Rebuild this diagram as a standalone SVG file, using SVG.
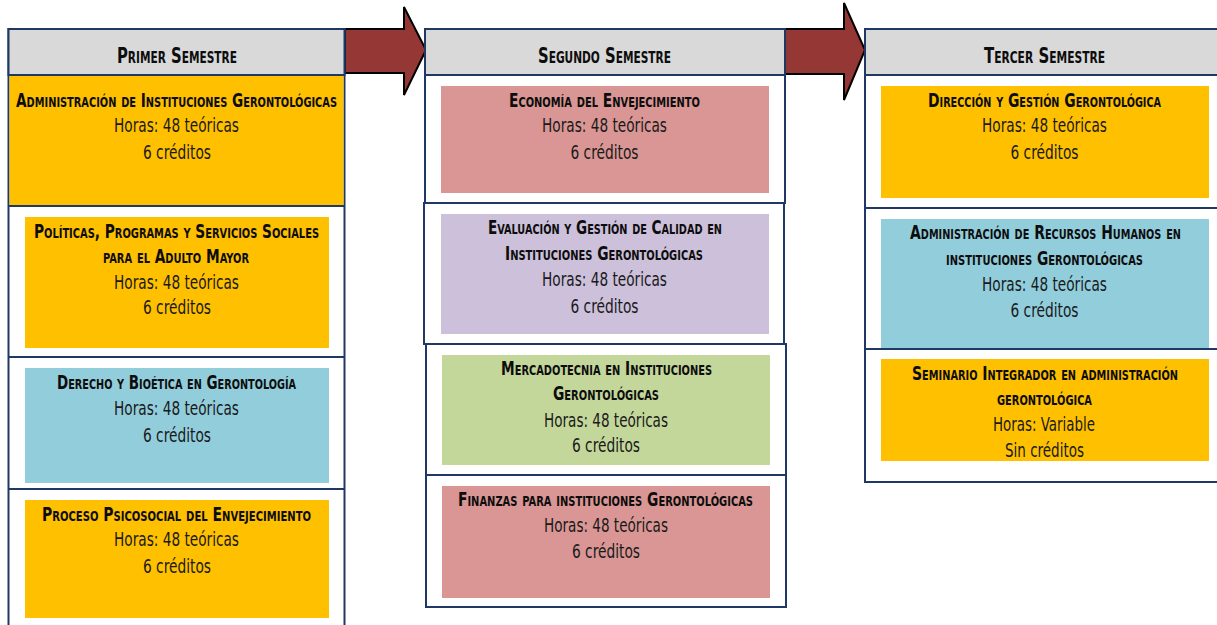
<svg xmlns="http://www.w3.org/2000/svg" width="1217" height="625" viewBox="0 0 1217 625">
<style>
.cell{fill:#fff;stroke:#1f3864;stroke-width:2}
.hdr{fill:#d9d9d9;stroke:#1f3864;stroke-width:2}
.ln{stroke:#1f3864;stroke-width:2}
.arrow{fill:#953735;stroke:#000;stroke-width:2;stroke-linejoin:miter}
.or{fill:#ffc000}.pk{fill:#d99694}.pu{fill:#ccc0da}.gr{fill:#c4d79b}.bl{fill:#92cddc}
text{font-family:"Liberation Sans Narrow","DejaVu Sans Condensed","Liberation Sans",sans-serif;text-anchor:middle;fill:#1a1a1a}
.h{font-size:21px;font-weight:bold;font-variant:small-caps;fill:#0d0d0d}
.t{font-size:19.5px;font-weight:bold;font-variant:small-caps;fill:#0d0d0d}
.b{font-size:19.5px}
</style>
<g id="connectors">
<polygon class="arrow" points="345,29 404,29 404,7 426,50 404,95 404,73 345,73"/>
<polygon class="arrow" points="785,29 844,29 844,3 865,50 844,100 844,74 785,74"/>
</g>
<g id="col1">
<rect class="cell" x="8.5" y="29" width="336" height="610"/>
<rect class="or" x="9.5" y="75" width="334" height="131"/>
<rect class="hdr" x="8.5" y="29" width="336" height="46"/>
<line class="ln" x1="8.5" y1="206" x2="344.5" y2="206"/>
<line class="ln" x1="8.5" y1="357" x2="344.5" y2="357"/>
<line class="ln" x1="8.5" y1="489" x2="344.5" y2="489"/>
<text class="h" x="177" y="63" textLength="120" lengthAdjust="spacingAndGlyphs">Primer Semestre</text>
</g>
<g id="c1n1">
<text class="t" x="176.5" y="107" textLength="321" lengthAdjust="spacingAndGlyphs">Administración de Instituciones Gerontológicas</text>
<text class="b" x="176.5" y="132" textLength="125" lengthAdjust="spacingAndGlyphs">Horas: 48 teóricas</text>
<text class="b" x="177" y="159" textLength="68" lengthAdjust="spacingAndGlyphs">6 créditos</text>
</g>
<g id="c1n2">
<rect class="or" x="25" y="217" width="304" height="131"/>
<text class="t" x="176.5" y="238" textLength="285" lengthAdjust="spacingAndGlyphs">Políticas, Programas y Servicios Sociales</text>
<text class="t" x="176" y="263" textLength="146" lengthAdjust="spacingAndGlyphs">para el Adulto Mayor</text>
<text class="b" x="176.5" y="289" textLength="125" lengthAdjust="spacingAndGlyphs">Horas: 48 teóricas</text>
<text class="b" x="177" y="314" textLength="68" lengthAdjust="spacingAndGlyphs">6 créditos</text>
</g>
<g id="c1n3">
<rect class="bl" x="25" y="368" width="304" height="115"/>
<text class="t" x="176.5" y="389" textLength="239" lengthAdjust="spacingAndGlyphs">Derecho y Bioética en Gerontología</text>
<text class="b" x="176.5" y="415" textLength="125" lengthAdjust="spacingAndGlyphs">Horas: 48 teóricas</text>
<text class="b" x="177" y="442" textLength="68" lengthAdjust="spacingAndGlyphs">6 créditos</text>
</g>
<g id="c1n4">
<rect class="or" x="25" y="500" width="304" height="118"/>
<text class="t" x="176.5" y="521" textLength="269" lengthAdjust="spacingAndGlyphs">Proceso Psicosocial del Envejecimiento</text>
<text class="b" x="176.5" y="546" textLength="125" lengthAdjust="spacingAndGlyphs">Horas: 48 teóricas</text>
<text class="b" x="177" y="573" textLength="68" lengthAdjust="spacingAndGlyphs">6 créditos</text>
</g>
<g id="col2">
<rect class="cell" x="425" y="29" width="360" height="174"/>
<rect class="hdr" x="425" y="29" width="360" height="46"/>
<rect class="cell" x="424" y="203" width="360" height="141"/>
<rect class="cell" x="426" y="344" width="360" height="131"/>
<rect class="cell" x="426" y="475" width="360" height="132"/>
<text class="h" x="604.5" y="63" textLength="133" lengthAdjust="spacingAndGlyphs">Segundo Semestre</text>
</g>
<g id="c2n1">
<rect class="pk" x="441" y="86" width="328" height="107"/>
<text class="t" x="604.5" y="107" textLength="191" lengthAdjust="spacingAndGlyphs">Economía del Envejecimiento</text>
<text class="b" x="604.5" y="132" textLength="125" lengthAdjust="spacingAndGlyphs">Horas: 48 teóricas</text>
<text class="b" x="604.5" y="159" textLength="68" lengthAdjust="spacingAndGlyphs">6 créditos</text>
</g>
<g id="c2n2">
<rect class="pu" x="441" y="214" width="328" height="120"/>
<text class="t" x="605" y="234" textLength="234" lengthAdjust="spacingAndGlyphs">Evaluación y Gestión de Calidad en</text>
<text class="t" x="604" y="260" textLength="198" lengthAdjust="spacingAndGlyphs">Instituciones Gerontológicas</text>
<text class="b" x="604.5" y="286" textLength="125" lengthAdjust="spacingAndGlyphs">Horas: 48 teóricas</text>
<text class="b" x="604.5" y="313" textLength="68" lengthAdjust="spacingAndGlyphs">6 créditos</text>
</g>
<g id="c2n3">
<rect class="gr" x="442" y="355" width="328" height="110"/>
<text class="t" x="606.5" y="375" textLength="211" lengthAdjust="spacingAndGlyphs">Mercadotecnia en Instituciones</text>
<text class="t" x="606" y="400" textLength="106" lengthAdjust="spacingAndGlyphs">Gerontológicas</text>
<text class="b" x="606" y="427" textLength="124" lengthAdjust="spacingAndGlyphs">Horas: 48 teóricas</text>
<text class="b" x="606" y="452" textLength="68" lengthAdjust="spacingAndGlyphs">6 créditos</text>
</g>
<g id="c2n4">
<rect class="pk" x="442" y="486" width="328" height="112"/>
<text class="t" x="605.5" y="506" textLength="295" lengthAdjust="spacingAndGlyphs">Finanzas para instituciones Gerontológicas</text>
<text class="b" x="606" y="532" textLength="124" lengthAdjust="spacingAndGlyphs">Horas: 48 teóricas</text>
<text class="b" x="606" y="558" textLength="68" lengthAdjust="spacingAndGlyphs">6 créditos</text>
</g>
<g id="col3">
<rect class="cell" x="865" y="29" width="360" height="453"/>
<rect class="hdr" x="865" y="29" width="360" height="46"/>
<line class="ln" x1="865" y1="208" x2="1225" y2="208"/>
<line class="ln" x1="865" y1="349" x2="1225" y2="349"/>
<text class="h" x="1044.5" y="63" textLength="121" lengthAdjust="spacingAndGlyphs">Tercer Semestre</text>
</g>
<g id="c3n1">
<rect class="or" x="881" y="86" width="328" height="112"/>
<text class="t" transform="translate(1044.5 107) scale(0.75 1)" x="0" y="0" textLength="310.7" lengthAdjust="spacingAndGlyphs">Dirección y Gestión Gerontológica</text>
<text class="b" x="1044.5" y="132" textLength="125" lengthAdjust="spacingAndGlyphs">Horas: 48 teóricas</text>
<text class="b" x="1044.5" y="159" textLength="68" lengthAdjust="spacingAndGlyphs">6 créditos</text>
</g>
<g id="c3n2">
<rect class="bl" x="881" y="219" width="328" height="129"/>
<text class="t" transform="translate(1045.5 239) scale(0.75 1)" x="0" y="0" textLength="361.3" lengthAdjust="spacingAndGlyphs">Administración de Recursos Humanos en</text>
<text class="t" x="1044.5" y="265" textLength="197" lengthAdjust="spacingAndGlyphs">instituciones Gerontológicas</text>
<text class="b" x="1044.5" y="291" textLength="125" lengthAdjust="spacingAndGlyphs">Horas: 48 teóricas</text>
<text class="b" x="1044.5" y="317" textLength="68" lengthAdjust="spacingAndGlyphs">6 créditos</text>
</g>
<g id="c3n3">
<rect class="or" x="881" y="359" width="328" height="102"/>
<text class="t" transform="translate(1045 380) scale(0.75 1)" x="0" y="0" textLength="354.7" lengthAdjust="spacingAndGlyphs">Seminario Integrador en administración</text>
<text class="t" x="1044.5" y="405" textLength="95" lengthAdjust="spacingAndGlyphs">gerontológica</text>
<text class="b" x="1044" y="431" textLength="102" lengthAdjust="spacingAndGlyphs">Horas: Variable</text>
<text class="b" x="1044.5" y="457" textLength="79" lengthAdjust="spacingAndGlyphs">Sin créditos</text>
</g>
</svg>
